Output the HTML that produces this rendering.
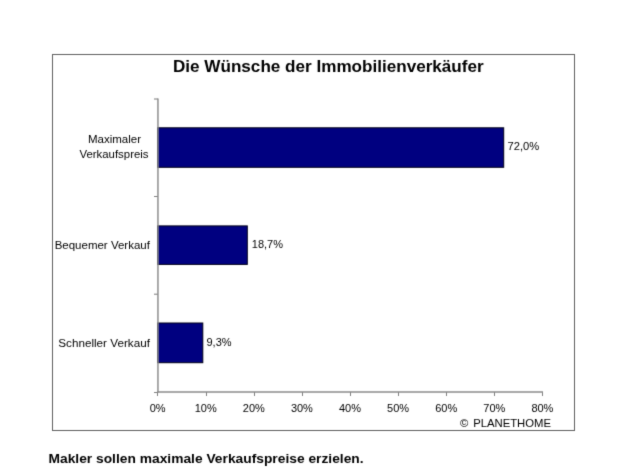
<!DOCTYPE html>
<html><head><meta charset="utf-8">
<style>
html,body{margin:0;padding:0;background:#fff;}
body{width:625px;height:475px;overflow:hidden;position:relative;}
#w{position:absolute;left:0;top:0;width:625px;height:475px;}
svg{position:absolute;left:0;top:0;}
text{font-family:"Liberation Sans",sans-serif;fill:#000;}
</style></head><body><div id="w">
<svg width="625" height="475" viewBox="0 0 625 475">
<defs><filter id="bl" x="0" y="0" width="625" height="475" filterUnits="userSpaceOnUse" color-interpolation-filters="sRGB"><feConvolveMatrix order="3" kernelMatrix="0.015 0.09 0.015 0.09 0.58 0.09 0.015 0.09 0.015" edgeMode="duplicate"/></filter></defs>
<g filter="url(#bl)">
<rect x="0" y="0" width="625" height="475" fill="#fff"/>
<g shape-rendering="crispEdges">
<rect x="52.5" y="54.5" width="522" height="376" fill="none" stroke="#606060" stroke-width="1"/>
<line x1="154" y1="196.5" x2="158" y2="196.5" stroke="#808080"/>
<line x1="154" y1="392.5" x2="158" y2="392.5" stroke="#808080"/>
<line x1="157.5" y1="392" x2="157.5" y2="396" stroke="#808080"/>
<line x1="206.5" y1="392" x2="206.5" y2="396" stroke="#808080"/>
<line x1="254.5" y1="392" x2="254.5" y2="396" stroke="#808080"/>
<line x1="302.5" y1="392" x2="302.5" y2="396" stroke="#808080"/>
<line x1="350.5" y1="392" x2="350.5" y2="396" stroke="#808080"/>
<line x1="398.5" y1="392" x2="398.5" y2="396" stroke="#808080"/>
<line x1="446.5" y1="392" x2="446.5" y2="396" stroke="#808080"/>
<line x1="494.5" y1="392" x2="494.5" y2="396" stroke="#808080"/>
<line x1="542.5" y1="392" x2="542.5" y2="396" stroke="#808080"/>
</g>
<rect x="157.5" y="127.8" width="346.2" height="39.5" fill="#000080" stroke="#000018"/>
<rect x="157.5" y="225.9" width="89.8" height="38.5" fill="#000080" stroke="#000018"/>
<rect x="157.5" y="323" width="45.3" height="39.7" fill="#000080" stroke="#000018"/>
<line x1="154" y1="99" x2="158" y2="99" stroke="#787878"/>
<line x1="154" y1="294.2" x2="158" y2="294.2" stroke="#787878"/>
<line x1="157.95" y1="98.5" x2="157.95" y2="392.6" stroke="#8e8e8e" stroke-width="1.5"/>
<line x1="157.2" y1="391.95" x2="543" y2="391.95" stroke="#8a8a8a" stroke-width="1.5"/>
<text x="173" y="71.7" font-size="17.1" font-weight="bold">Die Wünsche der Immobilienverkäufer</text>
<text x="114.5" y="142.7" font-size="11.5" text-anchor="middle">Maximaler</text>
<text x="114" y="158" font-size="11.4" text-anchor="middle">Verkaufspreis</text>
<text x="149.9" y="248.6" font-size="11.5" text-anchor="end">Bequemer Verkauf</text>
<text x="149.9" y="347" font-size="11.7" text-anchor="end">Schneller Verkauf</text>
<text x="507.5" y="150.4" font-size="11.2">72,0%</text>
<text x="251.8" y="248.3" font-size="11">18,7%</text>
<text x="206.5" y="346" font-size="11">9,3%</text>
<g font-size="11" text-anchor="middle">
<text x="157.6" y="412">0%</text>
<text x="205.7" y="412">10%</text>
<text x="253.8" y="412">20%</text>
<text x="301.9" y="412">30%</text>
<text x="350" y="412">40%</text>
<text x="398.1" y="412">50%</text>
<text x="446.2" y="412">60%</text>
<text x="494.3" y="412">70%</text>
<text x="542.4" y="412">80%</text>
</g>
<text x="551" y="427.3" font-size="11.3" text-anchor="end">©&#160;<tspan dx="1.6">PLANETHOME</tspan></text>
<text x="48.5" y="462.8" font-size="13.2" font-weight="bold" transform="translate(48.5 0) scale(1.045 1) translate(-48.5 0)">Makler sollen maximale Verkaufspreise erzielen.</text>
</g>
</svg>
</div></body></html>
